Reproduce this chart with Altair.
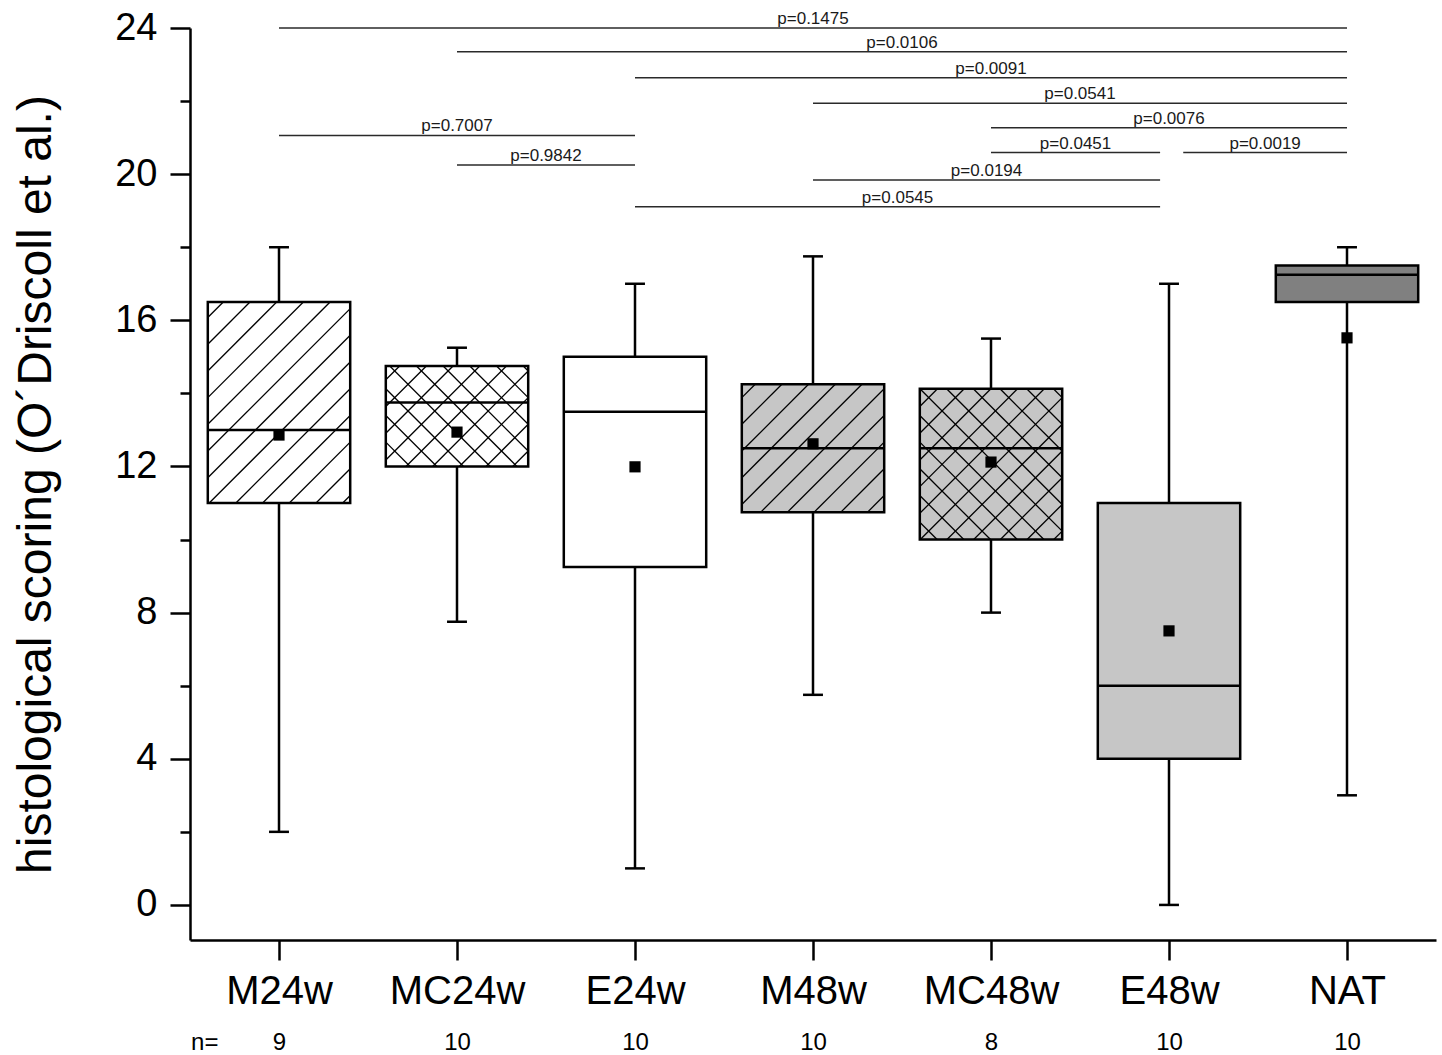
import math
import altair as alt
import pandas as pd

# ---- data -------------------------------------------------------------
groups = ["M24w", "MC24w", "E24w", "M48w", "MC48w", "E48w", "NAT"]
n_obs = [9, 10, 10, 10, 8, 10, 10]
whisker_low = [2, 7.75, 1, 5.75, 8, 0, 3]
q1 = [11, 12, 9.25, 10.75, 10, 4, 16.5]
median = [13, 13.75, 13.5, 12.5, 12.5, 6, 17.25]
q3 = [16.5, 14.75, 15, 14.25, 14.125, 11, 17.5]
whisker_high = [18, 15.25, 17, 17.75, 15.5, 17, 18]
mean = [12.86, 12.94, 11.99, 12.62, 12.12, 7.5, 15.52]

# pairwise comparisons drawn as horizontal brackets above the boxes
cmp_from = ["M24w", "MC24w", "E24w", "M48w", "MC48w", "MC48w", "E48w",
            "M24w", "MC24w", "M48w", "E24w"]
cmp_to = ["NAT", "NAT", "NAT", "NAT", "NAT", "E48w", "NAT",
          "E24w", "E24w", "E48w", "E48w"]
p_values = ["0.1475", "0.0106", "0.0091", "0.0541", "0.0076", "0.0451", "0.0019",
            "0.7007", "0.9842", "0.0194", "0.0545"]
bracket_level = [24.0, 23.35, 22.64, 21.94, 21.27, 20.59, 20.59,
                 21.06, 20.25, 19.84, 19.11]

# ---- styling ------------------------------------------------------------
W, H = 1246, 912
X_DOM = [0.5, 7.5]
Y_DOM = [-0.96, 24]
SX = W / (X_DOM[1] - X_DOM[0])   # px per x unit
SY = H / (Y_DOM[1] - Y_DOM[0])   # px per y unit
HALF = 0.4                       # half box width (x units)
CAP = 0.056                      # half whisker-cap width
HATCH_STEP = 26.7                # hatch period in px
FONT = "Liberation Sans"

fill_colors = ["#ffffff", "#ffffff", "#ffffff", "#c6c6c6", "#c6c6c6", "#c6c6c6", "#808080"]
hatch_kind = {"M24w": "/", "MC24w": "x", "M48w": "/", "MC48w": "x"}

pos = list(range(1, len(groups) + 1))
boxes = pd.DataFrame({
    "group": groups, "pos": pos, "n": n_obs,
    "low": whisker_low, "q1": q1, "median": median, "q3": q3,
    "high": whisker_high, "mean": mean,
})
boxes["xl"] = boxes["pos"] - HALF
boxes["xr"] = boxes["pos"] + HALF
boxes["cl"] = boxes["pos"] - CAP
boxes["cr"] = boxes["pos"] + CAP


def hatch_segments(p, lo, hi, kind):
    """Diagonal hatch lines clipped to a box, computed in pixel space."""
    u0, u1 = (p - HALF) * SX, (p + HALF) * SX
    w0, w1 = lo * SY, hi * SY
    segs = []
    if kind in ("/", "x"):
        k = math.ceil((w0 - u1) / HATCH_STEP) * HATCH_STEP
        while k <= w1 - u0:
            a, b = max(u0, w0 - k), min(u1, w1 - k)
            if b - a > 0.5:
                segs.append((a / SX, (a + k) / SY, b / SX, (b + k) / SY))
            k += HATCH_STEP
    if kind == "x":
        k = math.ceil((u0 + w0) / HATCH_STEP) * HATCH_STEP
        while k <= u1 + w1:
            a, b = max(u0, k - w1), min(u1, k - w0)
            if b - a > 0.5:
                segs.append((a / SX, (k - a) / SY, b / SX, (k - b) / SY))
            k += HATCH_STEP
    return segs


hatch_rows = []
for g, p, lo, hi in zip(groups, pos, q1, q3):
    if g in hatch_kind:
        for xa, ya, xb, yb in hatch_segments(p, lo, hi, hatch_kind[g]):
            hatch_rows.append({"group": g, "xa": xa, "ya": ya, "xb": xb, "yb": yb})
hatch = pd.DataFrame(hatch_rows)

# bracket ends meeting at E48w are trimmed so neighbouring brackets stay apart
idx = {g: i + 1 for i, g in enumerate(groups)}
br_x1, br_x2 = [], []
for a, b in zip(cmp_from, cmp_to):
    s, e = float(idx[a]), float(idx[b])
    if a == "E48w":
        s += 0.08
    if b == "E48w":
        e -= 0.05
    br_x1.append(s)
    br_x2.append(e)
brackets = pd.DataFrame({
    "x1": br_x1, "x2": br_x2, "level": bracket_level,
    "label": ["p=" + v for v in p_values],
})
brackets["mid"] = (brackets["x1"] + brackets["x2"]) / 2

# ---- scales & axes --------------------------------------------------------
xs = alt.Scale(domain=X_DOM, nice=False, zero=False)
ys = alt.Scale(domain=Y_DOM, nice=False, zero=False)

names_js = "[" + ",".join(f"'{g}'" for g in groups) + "]"
n_js = "[" + ",".join(f"'{v}'" for v in n_obs) + "]"

x_axis_main = alt.Axis(
    values=pos, labelExpr=f"{names_js}[round(datum.value) - 1]",
    orient="bottom", title=None, grid=False, tickSize=20, tickWidth=2.5,
    domainWidth=2.5, domainColor="black", tickColor="black",
    labelFontSize=40, labelColor="black", labelPadding=11,
    labelFlush=False, labelOverlap=False,
)
x_axis_n = alt.Axis(
    values=[0.58] + pos,
    labelExpr=f"datum.value < 0.9 ? 'n=' : {n_js}[round(datum.value) - 1]",
    orient="bottom", title=None, grid=False, ticks=False, domain=False,
    labelFontSize=24, labelColor="black", labelPadding=90,
    labelFlush=False, labelOverlap=False,
)
y_axis_main = alt.Axis(
    values=[0, 4, 8, 12, 16, 20, 24], orient="left", grid=False,
    title="histological scoring (O´Driscoll et al.)",
    titleFontSize=48, titleFontWeight="normal", titleColor="black",
    titleX=-140, titleY=H / 2, titleAngle=-90, titleBaseline="alphabetic",
    titleAlign="center",
    tickSize=20, tickWidth=2.5, domainWidth=2.5, domainColor="black",
    tickColor="black", labelFontSize=38, labelColor="black", labelPadding=13,
    labelOverlap=False,
)
y_axis_minor = alt.Axis(
    values=[2, 6, 10, 14, 18, 22], orient="left", grid=False, title=None,
    labels=False, domain=False, tickSize=10, tickWidth=2.5, tickColor="black",
)

# ---- layers ---------------------------------------------------------------
base = alt.Chart(boxes)

whiskers = base.mark_rule(color="black", strokeWidth=2.5).encode(
    x=alt.X("pos:Q", scale=xs, axis=x_axis_main),
    y=alt.Y("low:Q", scale=ys, axis=y_axis_main),
    y2="high:Q",
)

box_fill = base.mark_rect(strokeWidth=0).encode(
    x=alt.X("xl:Q", scale=xs, axis=None),
    x2="xr:Q",
    y=alt.Y("q1:Q", scale=ys, axis=None),
    y2="q3:Q",
    fill=alt.Fill("group:N", scale=alt.Scale(domain=groups, range=fill_colors),
                  legend=None),
)

hatch_layer = alt.Chart(hatch).mark_rule(color="black", strokeWidth=1.3).encode(
    x=alt.X("xa:Q", scale=xs, axis=None),
    x2="xb:Q",
    y=alt.Y("ya:Q", scale=ys, axis=None),
    y2="yb:Q",
)

box_outline = base.mark_rect(fillOpacity=0, stroke="black", strokeWidth=2.5).encode(
    x=alt.X("xl:Q", scale=xs, axis=None),
    x2="xr:Q",
    y=alt.Y("q1:Q", scale=ys, axis=None),
    y2="q3:Q",
)

median_line = base.mark_rule(color="black", strokeWidth=2.5).encode(
    x=alt.X("xl:Q", scale=xs, axis=x_axis_n),
    x2="xr:Q",
    y=alt.Y("median:Q", scale=ys, axis=y_axis_minor),
)

caps = base.transform_fold(["low", "high"], as_=["end", "val"]).mark_rule(
    color="black", strokeWidth=2.5
).encode(
    x=alt.X("cl:Q", scale=xs, axis=None),
    x2="cr:Q",
    y=alt.Y("val:Q", scale=ys, axis=None),
)

means = base.mark_point(shape="square", filled=True, color="black",
                        size=125, opacity=1).encode(
    x=alt.X("pos:Q", scale=xs, axis=None),
    y=alt.Y("mean:Q", scale=ys, axis=None),
)

br = alt.Chart(brackets)
bracket_lines = br.mark_rule(color="#2a2a2a", strokeWidth=1.5).encode(
    x=alt.X("x1:Q", scale=xs, axis=None),
    x2="x2:Q",
    y=alt.Y("level:Q", scale=ys, axis=None),
)
bracket_text = br.mark_text(font=FONT, fontSize=17, color="#1a1a1a",
                            baseline="alphabetic", dy=-4).encode(
    x=alt.X("mid:Q", scale=xs, axis=None),
    y=alt.Y("level:Q", scale=ys, axis=None),
    text="label:N",
)

chart = alt.layer(
    whiskers, box_fill, hatch_layer, box_outline, median_line, caps, means,
    bracket_lines, bracket_text,
).resolve_axis(x="independent", y="independent").properties(
    width=W, height=H,
    padding={"left": 190, "top": 28, "right": 6, "bottom": 115},
    autosize=alt.AutoSizeParams(type="none"),
    background="white",
).configure(font=FONT).configure_view(strokeWidth=0, stroke="transparent")

chart.save("out.html", embed_options={"renderer": "svg", "actions": False})
